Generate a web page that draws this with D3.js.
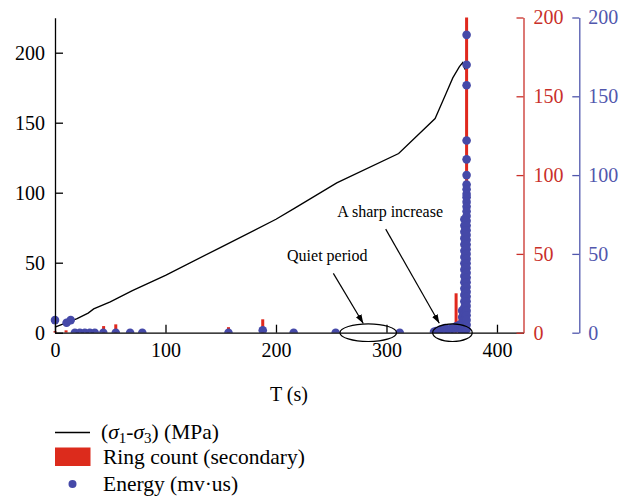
<!DOCTYPE html>
<html>
<head>
<meta charset="utf-8">
<script src="https://cdn.jsdelivr.net/npm/d3@7"></script>
<style>
  body { margin: 0; background: #fff; }
  text { font-family: "Liberation Serif", "DejaVu Serif", serif; }
</style>
</head>
<body>
<script>
// Stress curve (sigma1 - sigma3), MPa
const stressT = [0, 10, 20, 30, 35, 50, 70, 100, 150, 200, 217, 255, 311, 344, 354, 360, 366, 369, 371];
const stressV = [4, 7, 10, 14, 17, 22, 30, 41, 61, 81, 89, 107, 128, 153, 171, 182, 190, 193, 188];

// Ring count (secondary), red bars
const ringT = [0, 10, 44, 55, 157, 188, 363, 366.5, 372.5];
const ringV = [1, 1.5, 4.2, 5.3, 3.5, 8.5, 25, 9, 200];

// Energy (mv·us), blue dots
const energyT = [
  0, 10.5, 14.2, 18, 22.5, 27, 31.5, 36, 43.7, 55, 68, 79, 157, 188, 216, 254, 312,
  343, 345, 347, 349, 351, 353, 355, 357, 359, 361, 363, 365, 366, 367,
  368.5, 368.5, 368.5, 368.5, 368.5,
  370.5, 370.5, 370.5, 370.5, 370.5, 370.5, 370.5, 370.5, 370.5, 370.5,
  370.5, 370.5, 370.5, 370.5, 370.5, 370.5, 370.5, 370.5, 370.5,
  371.5, 371.5, 371.5, 371.5, 371.5, 371.5, 371.5, 371.5, 371.5, 371.5,
  372.5, 372.5, 372.5, 372.5, 372.5, 372.5, 372.5, 372.5, 372.5, 372.5,
  372.5, 372.5, 372.5, 372.5, 372.5, 372.5, 372.5, 372.5, 372.5, 372.5,
  372.5, 372.5, 372.5, 372.5, 372.5, 372.5, 372.5, 372.5, 372.5, 372.5,
  372.5, 372.5, 372.5, 372.5, 372.5, 372.5, 372.5, 372.5
];
const energyV = [
  8, 6.3, 8, 0, 0, 0, 0, 0, 0, 0, 0, 0, 0, 1.5, 0, 0, 0,
  0.5, 1, 0.5, 2, 1, 3, 2, 1, 3, 2, 4, 3, 5, 2,
  14, 10, 6, 3, 1,
  72, 68, 64, 60, 56, 52, 48, 44, 40, 36,
  32, 28, 24, 20, 16, 12, 8, 4, 1,
  66, 58, 50, 42, 34, 26, 18, 10, 6, 2,
  189, 170, 157, 122, 110, 100, 94, 91, 88, 86,
  83, 80, 77, 74, 71, 68, 65, 62, 59, 56,
  53, 50, 47, 44, 41, 38, 35, 32, 29, 26,
  23, 20, 17, 14, 11, 8, 5, 2
];

const xTicks = [0, 100, 200, 300, 400];
const yTicks = [0, 50, 100, 150, 200];
const rTicks = [0, 50, 100, 150, 200];

const width = 629;
const height = 498;
const red = "#e0281d";
const redAxis = "#c9302a";
const blue = "#4549a8";
const blueAxis = "#5157ad";

const x = d3.scaleLinear().domain([0, 424]).range([55, 523.5]);
const y = d3.scaleLinear().domain([0, 225]).range([332.7, 17.7]);
const yr = d3.scaleLinear().domain([0, 200]).range([332.7, 17.5]);

const svg = d3.select("body").append("svg")
    .attr("width", width)
    .attr("height", height)
    .attr("viewBox", [0, 0, width, height]);

svg.append("defs").append("clipPath").attr("id", "plot")
  .append("rect").attr("x", 0).attr("y", 0).attr("width", 580).attr("height", y(0));

svg.append("defs").append("marker")
    .attr("id", "arrow")
    .attr("viewBox", "0 0 10 10")
    .attr("refX", 10).attr("refY", 5)
    .attr("markerWidth", 9).attr("markerHeight", 9)
    .attr("markerUnits", "userSpaceOnUse")
    .attr("orient", "auto")
  .append("path").attr("d", "M0,1.5L10,5L0,8.5Z").attr("fill", "#000");

const plot = svg.append("g").attr("clip-path", "url(#plot)");

// Ring count bars
plot.append("g")
  .selectAll("rect")
  .data(ringT.map((t, i) => ({ t, v: ringV[i] })))
  .join("rect")
    .attr("x", d => x(d.t) - 1.5)
    .attr("width", 3)
    .attr("y", d => yr(d.v))
    .attr("height", d => yr(0) - yr(d.v))
    .attr("fill", red);

// Stress line
plot.append("path")
    .datum(stressT.map((t, i) => [t, stressV[i]]))
    .attr("fill", "none")
    .attr("stroke", "#000")
    .attr("stroke-width", 1.3)
    .attr("d", d3.line().x(d => x(d[0])).y(d => y(d[1])));

// Energy dots
plot.append("g")
  .selectAll("circle")
  .data(energyT.map((t, i) => ({ t, v: energyV[i] })))
  .join("circle")
    .attr("cx", d => x(d.t))
    .attr("cy", d => yr(d.v))
    .attr("r", 4.3)
    .attr("fill", blue);

// Axes
const fs = 20;
const bottom = svg.append("g")
    .attr("transform", `translate(0,${y(0)})`)
    .call(d3.axisBottom(x).tickValues(xTicks).tickSize(-8).tickSizeOuter(0).tickPadding(10));
const left = svg.append("g")
    .attr("transform", `translate(${x(0)},0)`)
    .call(d3.axisLeft(y).tickValues(yTicks).tickSize(-8).tickSizeOuter(0).tickPadding(10));
const right1 = svg.append("g")
    .attr("transform", `translate(${x(424)},0)`)
    .call(d3.axisRight(yr).tickValues(rTicks).tickSize(-7).tickSizeOuter(0).tickPadding(10));
const right2 = svg.append("g")
    .attr("transform", "translate(579.3,0)")
    .call(d3.axisRight(yr).tickValues(rTicks).tickSize(-7).tickSizeOuter(0).tickPadding(9));

[bottom, left].forEach(g => {
  g.selectAll("path, line").attr("stroke", "#000").attr("stroke-width", 1.3);
  g.selectAll("text").attr("font-size", fs).attr("font-family", "Liberation Serif").attr("fill", "#000");
});
right1.selectAll("path, line").attr("stroke", redAxis).attr("stroke-width", 1.3);
right1.selectAll("text").attr("font-size", fs).attr("font-family", "Liberation Serif").attr("fill", redAxis);
right2.selectAll("path, line").attr("stroke", blueAxis).attr("stroke-width", 1.3);
right2.selectAll("text").attr("font-size", fs).attr("font-family", "Liberation Serif").attr("fill", blueAxis);

// X axis title
svg.append("text")
    .attr("x", 289).attr("y", 401)
    .attr("text-anchor", "middle")
    .attr("font-size", fs)
    .text("T (s)");

// Annotations
const ann = svg.append("g").attr("fill", "none").attr("stroke", "#000").attr("stroke-width", 1.2);
ann.append("ellipse")
    .attr("cx", x(283.5)).attr("cy", y(0))
    .attr("rx", x(283.5 + 25.6) - x(283.5)).attr("ry", 8.8);
ann.append("ellipse")
    .attr("cx", x(359.7)).attr("cy", y(0))
    .attr("rx", x(359.7 + 17.9) - x(359.7)).attr("ry", 8.8);
ann.append("line")
    .attr("x1", x(251.9)).attr("y1", y(42.4))
    .attr("x2", x(279)).attr("y2", y(6.6))
    .attr("marker-end", "url(#arrow)");
ann.append("line")
    .attr("x1", x(299.3)).attr("y1", y(74))
    .attr("x2", x(347.8)).attr("y2", y(6.7))
    .attr("marker-end", "url(#arrow)");

svg.append("text")
    .attr("x", x(210)).attr("y", y(51.2))
    .attr("font-size", 16)
    .text("Quiet period");
svg.append("text")
    .attr("x", x(255.5)).attr("y", y(82.5))
    .attr("font-size", 16)
    .text("A sharp increase");

// Legend
const lfs = 21.5;
const legend = svg.append("g");
legend.append("line")
    .attr("x1", 55).attr("x2", 90).attr("y1", 432.5).attr("y2", 432.5)
    .attr("stroke", "#000").attr("stroke-width", 1.3);
const t1 = legend.append("text").attr("x", 101).attr("y", 439).attr("font-size", lfs);
t1.append("tspan").text("(");
t1.append("tspan").attr("font-style", "italic").text("σ");
t1.append("tspan").attr("font-size", 15).attr("dy", 4).text("1");
t1.append("tspan").attr("dy", -4).text("-");
t1.append("tspan").attr("font-style", "italic").text("σ");
t1.append("tspan").attr("font-size", 15).attr("dy", 4).text("3");
t1.append("tspan").attr("dy", -4).text(") (MPa)");

legend.append("rect")
    .attr("x", 55).attr("y", 447.5).attr("width", 35.5).attr("height", 18.5)
    .attr("fill", "#dc2b1c");
legend.append("text").attr("x", 103).attr("y", 464).attr("font-size", lfs)
    .text("Ring count (secondary)");

legend.append("circle").attr("cx", 72.5).attr("cy", 484).attr("r", 4).attr("fill", blue);
legend.append("text").attr("x", 103).attr("y", 491).attr("font-size", lfs)
    .text("Energy (mv·us)");
</script>
</body>
</html>
